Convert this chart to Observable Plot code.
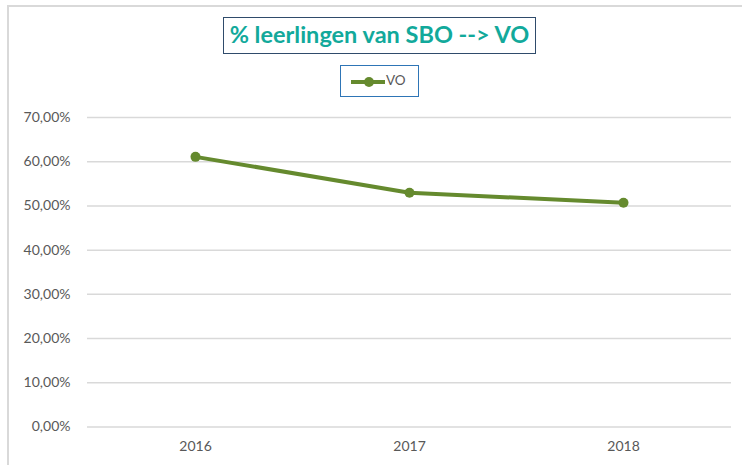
<!DOCTYPE html>
<html>
<head>
<meta charset="utf-8">
<script src="https://cdn.jsdelivr.net/npm/d3@7"></script>
<script src="https://cdn.jsdelivr.net/npm/@observablehq/plot@0.6"></script>
<style>
  html, body { margin: 0; padding: 0; background: #fff; }
  #wrap { position: relative; width: 742px; height: 465px; overflow: hidden; font-family: Lato, "Open Sans", sans-serif; }
  #frame { position: absolute; left: 7px; top: 5px; width: 800px; height: 500px; border-left: 2px solid #d9d9d9; border-top: 2px solid #d9d9d9; box-sizing: border-box; }
  #title { position: absolute; left: 223px; top: 17px; width: 313px; height: 37px; box-sizing: border-box; border: 1.5px solid #2f4b6b; color: #12a99b; font-weight: bold; font-size: 23.5px; text-align: center; line-height: 33px; white-space: nowrap; }
  #legend { position: absolute; left: 340px; top: 65px; width: 79px; height: 32px; box-sizing: border-box; border: 1.5px solid #2e75b6; }
  #legend svg { position: absolute; left: 0; top: 0; }
  #legend span { position: absolute; left: 45px; top: 6px; font-size: 13.5px; color: #595959; }
  #chart { position: absolute; left: 0; top: 0; }
</style>
</head>
<body>
<div id="wrap">
  <div id="frame"></div>
  <div id="chart"></div>
  <div id="title">% leerlingen van SBO --&gt; VO</div>
  <div id="legend">
    <svg width="79" height="32"><line x1="10" y1="16" x2="44" y2="16" stroke="#658a2e" stroke-width="4"/><circle cx="28" cy="16" r="5" fill="#658a2e"/></svg>
    <span>VO</span>
  </div>
</div>
<script>
const years = ["2016", "2017", "2018"];
const values = [0.611, 0.530, 0.507];
const yTicks = [0, 0.1, 0.2, 0.3, 0.4, 0.5, 0.6, 0.7];
const seriesName = "VO";

const data = years.map((y, i) => ({year: y, value: values[i], series: seriesName}));
const fmt = d => (d * 100).toFixed(2).replace(".", ",") + "%";

const chart = Plot.plot({
  width: 742,
  height: 465,
  marginTop: 117,
  marginBottom: 38.5,
  marginLeft: 87,
  marginRight: 11,
  style: {background: "transparent", fontFamily: "Lato, 'Open Sans', sans-serif", fontSize: "14px", color: "#595959"},
  x: {type: "point", domain: years, padding: 0.5, label: null, tickSize: 0, tickPadding: 14},
  y: {domain: [0, 0.7], ticks: yTicks, tickFormat: fmt, label: null, tickSize: 0, tickPadding: 17},
  marks: [
    Plot.gridY(yTicks, {stroke: "#d9d9d9", strokeOpacity: 1, strokeWidth: 1.5}),
    Plot.line(data, {x: "year", y: "value", stroke: "#658a2e", strokeWidth: 4}),
    Plot.dot(data, {x: "year", y: "value", fill: "#658a2e", r: 5})
  ]
});
document.getElementById("chart").appendChild(chart);
</script>
</body>
</html>
